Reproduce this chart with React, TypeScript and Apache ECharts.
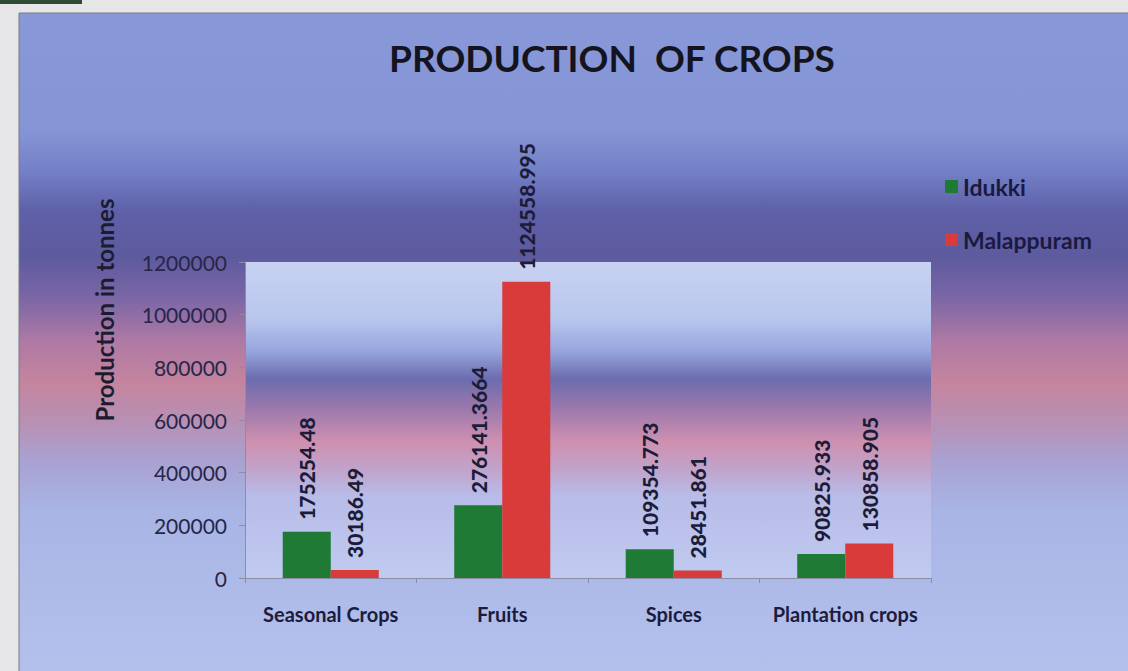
import React, { useEffect, useRef } from "react";
import * as echarts from "echarts";

const categories = ["Seasonal Crops", "Fruits", "Spices", "Plantation crops"];
const idukki = [175254.48, 276141.3664, 109354.773, 90825.933];
const malappuram = [30186.49, 1124558.995, 28451.861, 130858.905];
const seriesNames = ["Idukki", "Malappuram"];
const yTicks = { min: 0, max: 1200000, interval: 200000 };
const titleText = "PRODUCTION  OF CROPS";
const yAxisTitle = "Production in tonnes";

const FONT = "Lato";

export default function App() {
  const ref = useRef<HTMLDivElement>(null);
  useEffect(() => {
    if (!ref.current) return;
    const chart = echarts.init(ref.current, null, { renderer: "svg" });
    const outerGrad = new echarts.graphic.LinearGradient(0, 0, 0, 1, [
      { offset: 0, color: "#8898d8" },
      { offset: 0.18, color: "#8494d4" },
      { offset: 0.24, color: "#7480c6" },
      { offset: 0.3, color: "#5e60a8" },
      { offset: 0.37, color: "#5e5a9e" },
      { offset: 0.43, color: "#7a66a6" },
      { offset: 0.5, color: "#b07aa4" },
      { offset: 0.56, color: "#c4849e" },
      { offset: 0.62, color: "#b890b4" },
      { offset: 0.68, color: "#a8a2d2" },
      { offset: 0.75, color: "#a8b4e4" },
      { offset: 1, color: "#b4c0ec" },
    ]);
    const innerGrad = new echarts.graphic.LinearGradient(0, 0, 0, 1, [
      { offset: 0, color: "#c8d2f2" },
      { offset: 0.18, color: "#b8c6ee" },
      { offset: 0.28, color: "#98a6de" },
      { offset: 0.37, color: "#6c6cae" },
      { offset: 0.46, color: "#9a78ac" },
      { offset: 0.57, color: "#cf90b0" },
      { offset: 0.66, color: "#c0a4cc" },
      { offset: 0.74, color: "#b8bce8" },
      { offset: 1, color: "#c0caf0" },
    ]);
    const labelStyle = {
      show: true,
      position: "top" as const,
      rotate: 90,
      align: "left" as const,
      verticalAlign: "middle" as const,
      distance: 12,
      fontFamily: FONT,
      fontWeight: 900,
      fontSize: 21,
      color: "#1c1c38",
    };
    chart.setOption({
      animation: false,
      backgroundColor: "#e6e6e8",
      title: {
        text: titleText,
        left: 607,
        textAlign: "center",
        top: 34,
        textStyle: {
          fontFamily: FONT,
          fontWeight: "bold",
          fontSize: 37,
          color: "#14141e",
        },
      },
      graphic: [
        { type: "rect", z: -10, shape: { x: 0, y: 0, width: 82, height: 4 }, style: { fill: "#2f4a33" } },
        {
          type: "rect",
          z: -10,
          shape: { x: 19, y: 13, width: 1110, height: 660 },
          style: { fill: outerGrad, stroke: "#7a7a86", lineWidth: 1 },
        },
        {
          type: "text",
          z: 5,
          x: 104,
          y: 310,
          rotation: Math.PI / 2,
          style: {
            text: yAxisTitle,
            fontFamily: FONT,
            fontWeight: "bold",
            fontSize: 24,
            fill: "#1c1c30",
            align: "center",
            verticalAlign: "middle",
          },
        },
      ],
      legend: {
        orient: "vertical",
        left: 940,
        top: 170,
        itemWidth: 13,
        itemHeight: 13,
        itemGap: 30,
        icon: "rect",
        data: seriesNames,
        textStyle: { fontFamily: FONT, fontWeight: "bold", fontSize: 23, color: "#1a1a40" },
      },
      grid: {
        left: 245,
        right: 197,
        top: 262,
        bottom: 93,
        show: true,
        borderWidth: 0,
        backgroundColor: innerGrad,
      },
      xAxis: {
        type: "category",
        data: categories,
        axisLine: { show: true, lineStyle: { color: "#8c8ca4", width: 1 } },
        axisTick: { show: true, length: 5, lineStyle: { color: "#8c8ca4" } },
        axisLabel: {
          interval: 0,
          margin: 26,
          fontFamily: FONT,
          fontWeight: "bold",
          fontSize: 20,
          color: "#1c1c3c",
        },
      },
      yAxis: {
        type: "value",
        min: yTicks.min,
        max: yTicks.max,
        interval: yTicks.interval,
        splitLine: { show: false },
        axisLine: { show: true, lineStyle: { color: "#8c8ca4", width: 1 } },
        axisTick: { show: true, length: 6, lineStyle: { color: "#8c8ca4" } },
        axisLabel: {
          margin: 18,
          fontFamily: FONT,
          fontSize: 21,
          color: "#26264a",
          formatter: (v: number) => String(v),
        },
      },
      series: [
        {
          name: seriesNames[0],
          type: "bar",
          data: idukki,
          barGap: "0%",
          barCategoryGap: "44%",
          itemStyle: { color: "#1f7a35" },
          label: labelStyle,
        },
        {
          name: seriesNames[1],
          type: "bar",
          data: malappuram,
          itemStyle: { color: "#d93a3a" },
          label: labelStyle,
        },
      ],
    });
    return () => chart.dispose();
  }, []);
  return (
    <div
      ref={ref}
      style={{ position: "fixed", left: 0, top: 0, width: 1128, height: 671 }}
    />
  );
}
